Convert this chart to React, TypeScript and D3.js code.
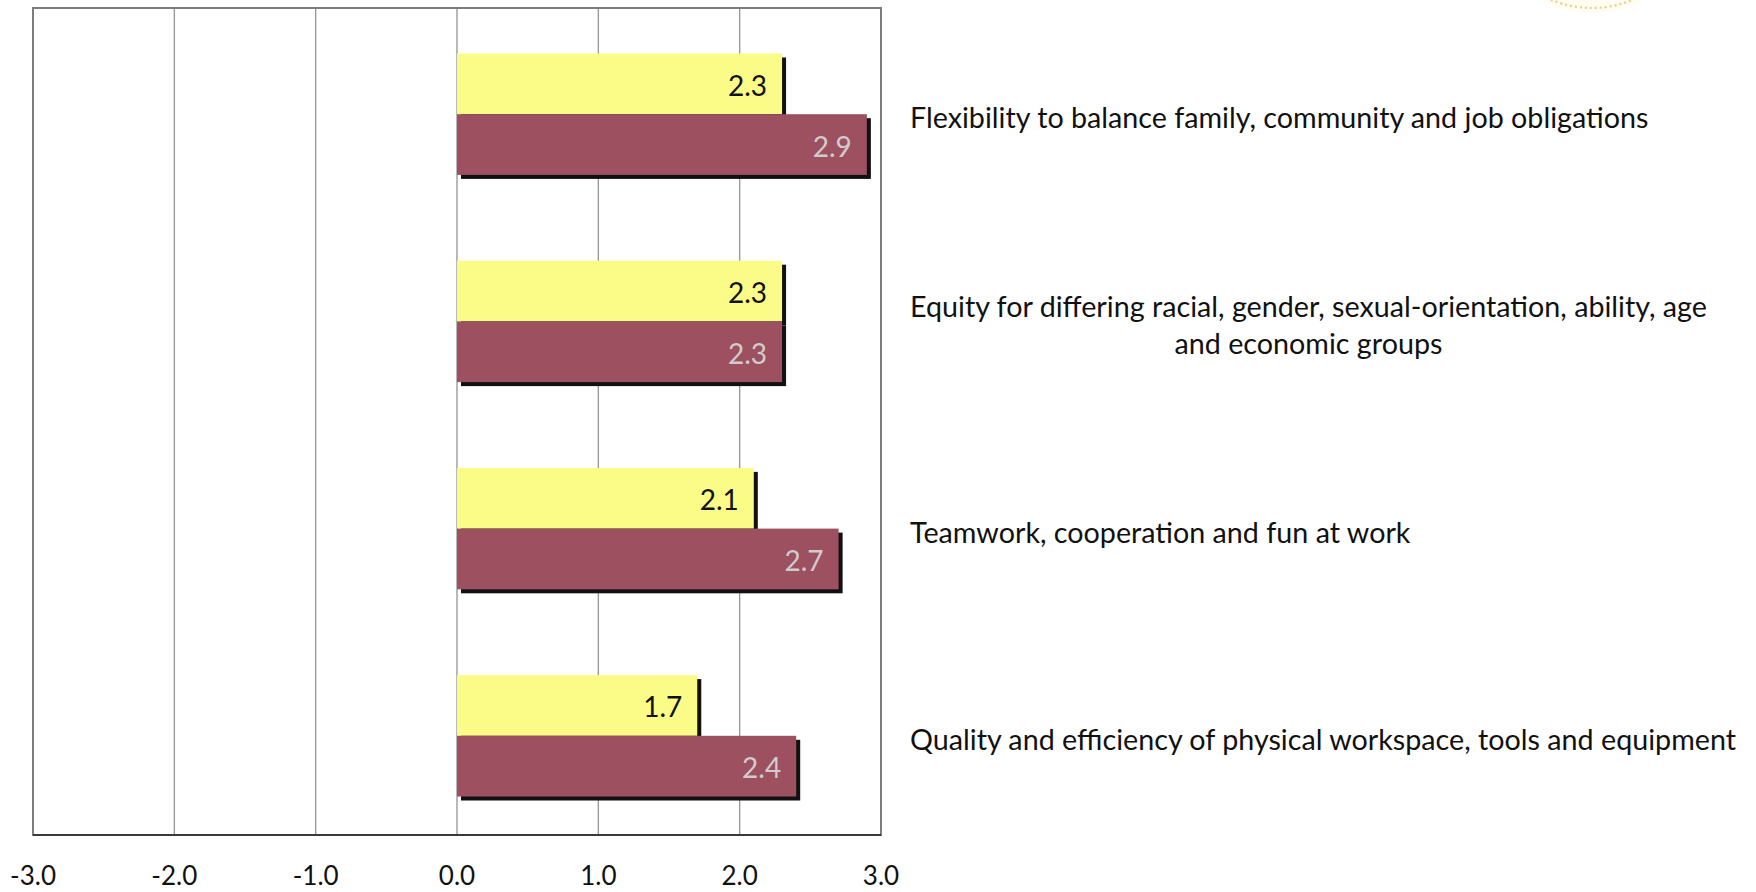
import React, { useEffect, useRef } from "react";
import * as d3 from "d3";

// Categories, drawn from top to bottom
const categories = [
  "Flexibility to balance family, community and job obligations",
  "Equity for differing racial, gender, sexual-orientation, ability, age and economic groups",
  "Teamwork, cooperation and fun at work",
  "Quality and efficiency of physical workspace, tools and equipment",
];

// How each category label is broken into lines
const categoryLines = [
  ["Flexibility to balance family, community and job obligations"],
  ["Equity for differing racial, gender, sexual-orientation, ability, age", "and economic groups"],
  ["Teamwork, cooperation and fun at work"],
  ["Quality and efficiency of physical workspace, tools and equipment"],
];

const seriesKeys = ["current", "desired"];
const currentValues = [2.3, 2.3, 2.1, 1.7];
const desiredValues = [2.9, 2.3, 2.7, 2.4];

const xDomain = [-3, 3];
const xTicks = [-3, -2, -1, 0, 1, 2, 3];

const WIDTH = 1756;
const HEIGHT = 892;

const fmt = (v: number) => d3.format(".1f")(v).replace("\u2212", "-");

export default function App() {
  const ref = useRef<SVGSVGElement | null>(null);

  useEffect(() => {
    const svg = d3.select(ref.current);
    svg.selectAll("*").remove();

    const left = 33, right = 881, top = 8, bottom = 835;
    const font = "Lato, 'Open Sans', sans-serif";

    const x = d3.scaleLinear().domain(xDomain).range([left, right]);
    const y = d3
      .scaleBand<string>()
      .domain(categories)
      .range([10.6, 839.4])
      .paddingInner(0.414)
      .paddingOuter(0.207);
    const ySub = d3.scaleBand<string>().domain(seriesKeys).range([0, y.bandwidth()]);

    const colors: Record<string, string> = { current: "#FBFB88", desired: "#9C5060" };
    const labelColors: Record<string, string> = { current: "#111111", desired: "#D2CBCD" };

    const rows = categories.flatMap((c, i) => [
      { cat: c, key: "current", value: currentValues[i] },
      { cat: c, key: "desired", value: desiredValues[i] },
    ]);

    // faint seal at the top-right corner
    const seal = svg.append("g");
    seal
      .append("circle")
      .attr("cx", 1592)
      .attr("cy", -97)
      .attr("r", 110)
      .attr("fill", "#FFFBEA")
      .attr("opacity", 0.6);
    seal
      .append("circle")
      .attr("cx", 1592)
      .attr("cy", -97)
      .attr("r", 105)
      .attr("fill", "none")
      .attr("stroke", "#E2C36A")
      .attr("stroke-width", 2.2)
      .attr("stroke-dasharray", "2 3")
      .attr("opacity", 0.8);

    // vertical gridlines
    svg
      .append("g")
      .selectAll("line")
      .data(xTicks.slice(1, -1))
      .join("line")
      .attr("x1", (d) => x(d))
      .attr("x2", (d) => x(d))
      .attr("y1", top)
      .attr("y2", bottom)
      .attr("stroke", "#9A9A9A")
      .attr("stroke-width", 1.4);

    // plot frame
    svg
      .append("rect")
      .attr("x", left)
      .attr("y", top)
      .attr("width", right - left)
      .attr("height", bottom - top)
      .attr("fill", "none")
      .attr("stroke", "#7C7C7C")
      .attr("stroke-width", 2);
    svg
      .append("line")
      .attr("x1", left)
      .attr("x2", right)
      .attr("y1", bottom)
      .attr("y2", bottom)
      .attr("stroke", "#3A3A3A")
      .attr("stroke-width", 2.2);

    const barY = (d: any) => (y(d.cat) as number) + (ySub(d.key) as number);
    const h = ySub.bandwidth();

    // shadows
    svg
      .append("g")
      .selectAll("rect")
      .data(rows)
      .join("rect")
      .attr("x", x(0) + 4)
      .attr("y", (d) => barY(d) + 4)
      .attr("width", (d) => x(d.value) - x(0))
      .attr("height", h)
      .attr("fill", "#111111");

    // bars
    svg
      .append("g")
      .selectAll("rect")
      .data(rows)
      .join("rect")
      .attr("x", x(0))
      .attr("y", (d) => barY(d))
      .attr("width", (d) => x(d.value) - x(0))
      .attr("height", h)
      .attr("fill", (d) => colors[d.key]);

    // value labels
    svg
      .append("g")
      .selectAll("text")
      .data(rows)
      .join("text")
      .attr("x", (d) => x(d.value) - 15)
      .attr("y", (d) => barY(d) + h / 2 + 1)
      .attr("text-anchor", "end")
      .attr("dominant-baseline", "central")
      .attr("font-family", font)
      .attr("font-size", 28)
      .attr("fill", (d) => labelColors[d.key])
      .text((d) => fmt(d.value));

    // x tick labels
    svg
      .append("g")
      .selectAll("text")
      .data(xTicks)
      .join("text")
      .attr("x", (d) => x(d))
      .attr("y", 885)
      .attr("text-anchor", "middle")
      .attr("font-family", font)
      .attr("font-size", 26)
      .attr("fill", "#111111")
      .text((d) => fmt(d));

    // category labels: left-aligned block, lines centered within the block
    const labelLeft = 910;
    const lineGap = 37;
    categories.forEach((c, i) => {
      const lines = categoryLines[i];
      const cy = (y(c) as number) + y.bandwidth() / 2 + 3;
      const g = svg.append("g");
      const texts = g
        .selectAll("text")
        .data(lines)
        .join("text")
        .attr("y", (_, j) => cy + (j - (lines.length - 1) / 2) * lineGap)
        .attr("dominant-baseline", "central")
        .attr("text-anchor", "middle")
        .attr("font-family", font)
        .attr("font-size", 28.7)
        .attr("fill", "#111111")
        .text((d) => d);
      let maxW = 0;
      texts.each(function () {
        maxW = Math.max(maxW, (this as SVGTextElement).getComputedTextLength());
      });
      texts.attr("x", labelLeft + maxW / 2);
    });
  }, []);

  return (
    <svg
      ref={ref}
      width={WIDTH}
      height={HEIGHT}
      style={{ position: "absolute", left: 0, top: 0, display: "block", background: "#ffffff" }}
    />
  );
}
